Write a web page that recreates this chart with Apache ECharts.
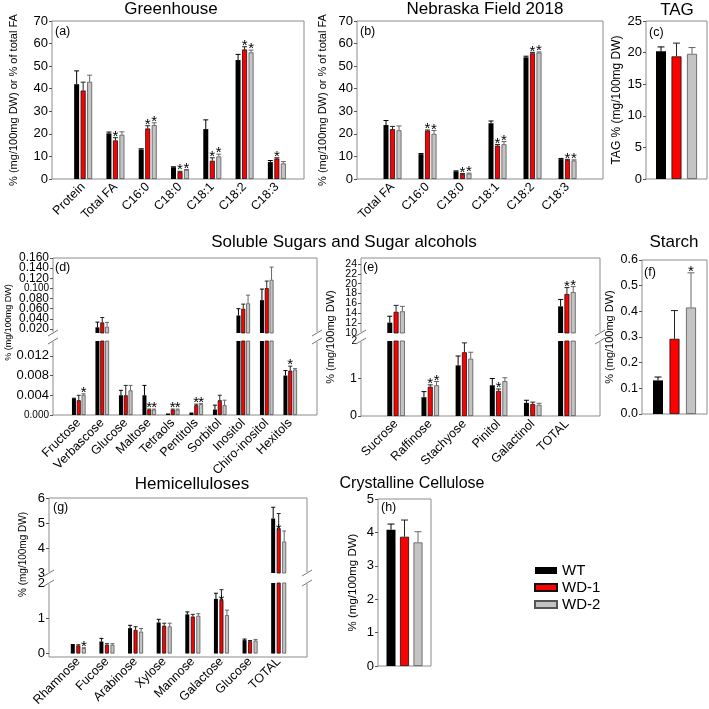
<!DOCTYPE html>
<html>
<head>
<meta charset="utf-8">
<title>Seed composition WT / WD-1 / WD-2</title>
<script src="https://cdn.jsdelivr.net/npm/echarts@6/dist/echarts.min.js"></script>
<style>
  html, body { margin: 0; padding: 0; background: #fff; }
  #chart { width: 709px; height: 709px; }
</style>
</head>
<body>
<div id="chart"></div>
<script>
// ---- (a) Greenhouse ----
const ghCats = ['Protein', 'Total FA', 'C16:0', 'C18:0', 'C18:1', 'C18:2', 'C18:3'];
const ghWT = [42.0, 20.2, 13.1, 5.2, 22.1, 52.7, 7.5];
const ghWTErr = [5.9, 0.6, 0.3, 0.2, 4.1, 2.5, 0.7];
const ghWD1 = [39.2, 17.1, 22.4, 3.1, 8.1, 57.4, 9.1];
const ghWD1Err = [3.7, 1.2, 1.2, 0.3, 1.3, 1.2, 0.3];
const ghWD2 = [43.1, 19.6, 23.9, 4.0, 10.0, 56.1, 6.9];
const ghWD2Err = [2.9, 1.3, 1.0, 0.2, 1.0, 1.0, 0.8];
const ghWD1Star = [0, 1, 1, 1, 1, 1, 1];
const ghWD2Star = [0, 0, 1, 1, 1, 1, 0];

// ---- (b) Nebraska Field 2018 ----
const nbCats = ['Total FA', 'C16:0', 'C18:0', 'C18:1', 'C18:2', 'C18:3'];
const nbWT = [23.9, 11.0, 3.4, 24.7, 53.9, 8.8];
const nbWTErr = [2.0, 0.3, 0.2, 1.0, 0.5, 0.3];
const nbWD1 = [22.1, 21.4, 2.2, 14.8, 55.7, 8.4];
const nbWD1Err = [1.2, 0.3, 0.2, 0.5, 0.4, 0.3];
const nbWD2 = [21.6, 20.0, 2.4, 15.4, 56.0, 8.2];
const nbWD2Err = [1.9, 1.5, 0.2, 1.2, 0.3, 0.3];
const nbWD1Star = [0, 1, 1, 1, 1, 1];
const nbWD2Star = [0, 1, 1, 1, 1, 1];
const faTicks = [0, 10, 20, 30, 40, 50, 60, 70];

// ---- (c) TAG ----
const tagWT = [20.2], tagWTErr = [0.7];
const tagWD1 = [19.4], tagWD1Err = [2.1];
const tagWD2 = [19.8], tagWD2Err = [1.0];
const tagTicks = [0, 5, 10, 15, 20, 25];

// ---- (d) sugars (small amounts) ----
const sgCats = ['Fructose', 'Verbascose', 'Glucose', 'Maltose', 'Tetraols', 'Pentitols', 'Sorbitol', 'Inositol', 'Chiro-inositol', 'Hexitols'];
const sgWT = [0.0033, 0.0232, 0.0040, 0.0040, 0.0003, 0.0005, 0.0011, 0.0465, 0.0768, 0.0080];
const sgWTErr = [0.0001, 0.0103, 0.0010, 0.0020, 0, 0, 0.0009, 0.0135, 0.0219, 0.0010];
const sgWD1 = [0.0030, 0.0329, 0.0040, 0.0011, 0.0011, 0.0020, 0.0030, 0.0600, 0.1006, 0.0090];
const sgWD1Err = [0.0010, 0.0097, 0.0020, 0.0001, 0.0001, 0.0002, 0.0010, 0.0090, 0.0139, 0.0009];
const sgWD2 = [0.0041, 0.0245, 0.0050, 0.0011, 0.0011, 0.0022, 0.0020, 0.0706, 0.1170, 0.0092];
const sgWD2Err = [0.0002, 0.0084, 0.0010, 0.0001, 0.0001, 0.0001, 0.0010, 0.0161, 0.0250, 0.0002];
const sgWD1Star = [0, 0, 0, 1, 1, 1, 0, 0, 0, 1];
const sgWD2Star = [1, 0, 0, 1, 1, 1, 0, 0, 0, 0];
const sgTicksHigh = [0.02, 0.04, 0.06, 0.08, 0.10, 0.12, 0.14, 0.16];
const sgTicksLow = [0, 0.004, 0.008, 0.012];

// ---- (e) sugars (large amounts) ----
const suCats = ['Sucrose', 'Raffinose', 'Stachyose', 'Pinitol', 'Galactinol', 'TOTAL'];
const suWT = [12.1, 0.50, 1.35, 0.82, 0.35, 15.4];
const suWTErr = [1.3, 0.15, 0.25, 0.18, 0.07, 1.4];
const suWD1 = [14.3, 0.78, 1.70, 0.67, 0.32, 17.9];
const suWD1Err = [1.3, 0.05, 0.25, 0.05, 0.05, 1.3];
const suWD2 = [14.4, 0.82, 1.53, 0.93, 0.30, 18.3];
const suWD2Err = [1.0, 0.10, 0.17, 0.09, 0.04, 1.1];
const suWD1Star = [0, 1, 0, 1, 0, 1];
const suWD2Star = [0, 1, 0, 0, 0, 1];
const suTicksHigh = [10, 12, 14, 16, 18, 20, 22, 24];
const suTicksLow = [0, 1, 2];

// ---- (f) Starch ----
const stWT = [0.131], stWTErr = [0.013];
const stWD1 = [0.293], stWD1Err = [0.110];
const stWD2 = [0.415], stWD2Err = [0.135];
const stWD2Star = [1];
const stTicks = [0, 0.1, 0.2, 0.3, 0.4, 0.5, 0.6];

// ---- (g) Hemicelluloses ----
const hmCats = ['Rhamnose', 'Fucose', 'Arabinose', 'Xylose', 'Mannose', 'Galactose', 'Glucose', 'TOTAL'];
const hmWT = [0.245, 0.34, 0.72, 0.88, 1.11, 1.55, 0.38, 5.18];
const hmWTErr = [0.01, 0.09, 0.08, 0.09, 0.07, 0.16, 0.03, 0.45];
const hmWD1 = [0.23, 0.25, 0.67, 0.79, 1.05, 1.52, 0.35, 4.78];
const hmWD1Err = [0.02, 0.03, 0.09, 0.07, 0.06, 0.29, 0.02, 0.60];
const hmWD2 = [0.155, 0.25, 0.62, 0.77, 1.07, 1.09, 0.37, 4.26];
const hmWD2Err = [0.01, 0.03, 0.09, 0.09, 0.06, 0.14, 0.03, 0.42];
const hmWD1Star = [0, 0, 0, 0, 0, 2, 0, 2]; // 2 = star sits on the bar top
const hmWD2Star = [1, 0, 0, 0, 0, 0, 0, 0];
const hmTicksHigh = [3, 4, 5, 6];
const hmTicksLow = [0, 1, 2];

// ---- (h) Crystalline cellulose ----
const ccWT = [4.08], ccWTErr = [0.17];
const ccWD1 = [3.87], ccWD1Err = [0.50];
const ccWD2 = [3.70], ccWD2Err = [0.32];
const ccTicks = [0, 1, 2, 3, 4, 5];

const genotypes = ['WT', 'WD-1', 'WD-2'];

// ---- styling ----
const FONT = 'Liberation Sans';
const FILLS = ['#000000', '#ff0000', '#c4c4c4'];
const EDGES = ['#000000', '#111111', '#555555'];
const ERR_COLORS = ['#000000', '#222222', '#666666'];
const FRAME = '#8c8c8c';
const DW_NAME = '% (mg/100mg DW)';

const grid = [], xAxis = [], yAxis = [], series = [], graphic = [];

function errRenderer(pitch, capW) {
  return function (params, api) {
    const k = api.value(3);
    const v = api.value(1), e = api.value(2), star = api.value(4);
    const p0 = api.coord([api.value(0), v]);
    const p1 = api.coord([api.value(0), v + e]);
    const x = p0[0] + (k - 1) * pitch;
    const color = ERR_COLORS[k];
    const children = [];
    if (e > 0) {
      children.push({ type: 'line', shape: { x1: x, y1: p0[1], x2: x, y2: p1[1] }, style: { stroke: color, lineWidth: 1 } });
      children.push({ type: 'line', shape: { x1: x - capW / 2, y1: p1[1], x2: x + capW / 2, y2: p1[1] }, style: { stroke: color, lineWidth: 1 } });
    }
    if (star) {
      const sy = star === 2 ? p0[1] + 1 : p1[1] - 1;
      children.push({
        type: 'text', x: x, y: sy,
        style: { text: '*', fontSize: 15, fontFamily: FONT, fill: '#000', align: 'center', verticalAlign: 'middle', textAlign: 'center', textVerticalAlign: 'middle' }
      });
    }
    return { type: 'group', children: children };
  };
}

// a value axis that only shows the given tick values
function tickAxis(gi, seg, p, ticks) {
  const size = seg.size || p.ySize;
  return {
    gridIndex: gi, type: 'value', position: 'left', min: seg.min, max: seg.max, offset: p.data[0] - p.frame[0],
    axisLine: { show: false }, splitLine: { show: false },
    axisTick: { show: true, length: 3, customValues: ticks, lineStyle: { color: '#555' } },
    axisLabel: {
      customValues: ticks, margin: 4, hideOverlap: false, showMinLabel: true, showMaxLabel: true,
      fontFamily: FONT, fontSize: size, color: '#000',
      formatter: function (v) {
        const t = Number(v).toFixed(p.dec);
        return (seg.small || []).some(s => Math.abs(s - v) < 1e-9) ? '{s|' + t + '}' : t;
      },
      rich: { s: { fontFamily: FONT, fontSize: 10, color: '#000' } }
    }
  };
}

function addPanel(p) {
  // outer frame with the axis title
  const fi = grid.length;
  grid.push({ left: p.frame[0], top: p.frame[1], width: p.frame[2], height: p.frame[3], show: true, borderColor: FRAME, borderWidth: 1 });
  xAxis.push({ gridIndex: fi, type: 'value', show: false });
  yAxis.push({
    gridIndex: fi, type: 'value', position: 'left', min: 0, max: 1,
    axisLine: { show: false }, axisTick: { show: false }, axisLabel: { show: false }, splitLine: { show: false },
    name: p.yName, nameLocation: 'middle', nameGap: p.nameGap,
    nameTextStyle: { fontFamily: FONT, fontSize: p.nameSize, color: '#000', padding: p.namePad || 0 }
  });

  const gapPct = Math.round((p.pitch - p.barWidth) / p.barWidth * 100) + '%';
  p.segs.forEach((seg, si) => {
    const isBottom = si === p.segs.length - 1;
    const gi = grid.length;
    grid.push({ left: p.data[0], width: p.data[1], top: seg.top, height: seg.bottom - seg.top });
    xAxis.push({
      gridIndex: gi, type: 'category', data: p.cats,
      axisLine: { show: false }, axisTick: { show: false },
      axisLabel: isBottom && p.cats[0] !== ''
        ? { rotate: 45, margin: 6, interval: 0, fontFamily: FONT, fontSize: p.xSize, color: '#000' }
        : { show: false }
    });
    const yi = yAxis.length;
    if (seg.split) {
      // dense labels: alternate them over two stacked axes so none is dropped
      yAxis.push(tickAxis(gi, seg, p, seg.ticks.filter((t, i) => i % 2 === 0)));
      yAxis.push(tickAxis(gi, seg, p, seg.ticks.filter((t, i) => i % 2 === 1)));
    } else {
      yAxis.push(tickAxis(gi, seg, p, seg.ticks));
    }
    p.vals.forEach((vals, k) => {
      series.push({
        type: 'bar', name: genotypes[k], xAxisIndex: gi, yAxisIndex: yi, data: vals,
        barWidth: p.barWidth, barGap: gapPct, clip: true, silent: true,
        itemStyle: { color: FILLS[k], borderColor: EDGES[k], borderWidth: k ? 0.8 : 0 }
      });
    });
    const errData = [];
    p.vals.forEach((vals, k) => vals.forEach((v, i) => {
      if (v >= seg.min && v <= seg.max) {
        errData.push([i, v, p.errs[k][i], k, p.stars[k] ? p.stars[k][i] : 0]);
      }
    }));
    series.push({
      type: 'custom', name: 'err', xAxisIndex: gi, yAxisIndex: yi, clip: true, silent: true, z: 4,
      data: errData, renderItem: errRenderer(p.pitch, p.capW)
    });
  });

  (p.breaks || []).forEach(x => {
    const yUp = p.segs[0].bottom, yLow = p.segs[1].top;
    graphic.push({ type: 'rect', shape: { x: x - 3, y: yUp - 1, width: 6, height: yLow - yUp + 2 }, style: { fill: '#fff' }, z: 50 });
    [yUp, yLow].forEach(y => graphic.push({
      type: 'line', shape: { x1: x - 5, y1: y + 3, x2: x + 5, y2: y - 3 }, style: { stroke: '#777', lineWidth: 1 }, z: 51
    }));
  });
}

function addText(text, x, y, size, align) {
  graphic.push({
    type: 'text', x: x, y: y, z: 60,
    style: { text: text, fontFamily: FONT, fontSize: size, fill: '#000', align: align, verticalAlign: 'middle', textAlign: align, textVerticalAlign: 'middle' }
  });
}

addPanel({
  frame: [52, 21, 252, 158], data: [67, 226], cats: ghCats,
  vals: [ghWT, ghWD1, ghWD2], errs: [ghWTErr, ghWD1Err, ghWD2Err], stars: [null, ghWD1Star, ghWD2Star],
  segs: [{ top: 21, bottom: 179, min: 0, max: 70, ticks: faTicks }],
  barWidth: 5, pitch: 6.5, capW: 5, dec: 0, ySize: 13, xSize: 12.5,
  yName: '% (mg/100mg DW) or % of total FA', nameGap: 33, nameSize: 11
});
addPanel({
  frame: [357, 21, 246, 158], data: [375, 210], cats: nbCats,
  vals: [nbWT, nbWD1, nbWD2], errs: [nbWTErr, nbWD1Err, nbWD2Err], stars: [null, nbWD1Star, nbWD2Star],
  segs: [{ top: 21, bottom: 179, min: 0, max: 70, ticks: faTicks }],
  barWidth: 5, pitch: 6.5, capW: 5, dec: 0, ySize: 13, xSize: 12.5,
  yName: '% (mg/100mg DW) or % of total FA', nameGap: 29, nameSize: 11
});
addPanel({
  frame: [646, 21, 61, 158], data: [646, 61], cats: [''],
  vals: [tagWT, tagWD1, tagWD2], errs: [tagWTErr, tagWD1Err, tagWD2Err], stars: [null, null, null],
  segs: [{ top: 21, bottom: 179, min: 0, max: 25, ticks: tagTicks }],
  barWidth: 10, pitch: 15.5, capW: 7, dec: 0, ySize: 13, xSize: 12,
  yName: 'TAG % (mg/100mg DW)', nameGap: 23, nameSize: 12
});
addPanel({
  frame: [53, 258, 264, 157], data: [67, 235], cats: sgCats,
  vals: [sgWT, sgWD1, sgWD2], errs: [sgWTErr, sgWD1Err, sgWD2Err], stars: [null, sgWD1Star, sgWD2Star],
  segs: [
    { top: 258, bottom: 333, min: 0.012, max: 0.16, ticks: sgTicksHigh, small: [0.1], size: 12, split: true },
    { top: 341, bottom: 415, min: 0, max: 0.015, ticks: sgTicksLow, small: [0] }
  ],
  breaks: [53, 317],
  barWidth: 4, pitch: 4.8, capW: 4, dec: 3, ySize: 13, xSize: 12.5,
  yName: DW_NAME, nameGap: 40, nameSize: 9, namePad: [0, 0, 0, 28]
});
addPanel({
  frame: [361, 258, 239, 158], data: [379, 205], cats: suCats,
  vals: [suWT, suWD1, suWD2], errs: [suWTErr, suWD1Err, suWD2Err], stars: [null, suWD1Star, suWD2Star],
  segs: [
    { top: 258, bottom: 333, min: 10, max: 25.2, ticks: suTicksHigh, size: 10.5, split: true },
    { top: 341, bottom: 416, min: 0, max: 2, ticks: suTicksLow, small: [2] }
  ],
  breaks: [361, 600],
  barWidth: 5, pitch: 6.3, capW: 5, dec: 0, ySize: 12.5, xSize: 12.5,
  yName: DW_NAME, nameGap: 25, nameSize: 11
});
addPanel({
  frame: [642, 260, 65, 154], data: [642, 65], cats: [''],
  vals: [stWT, stWD1, stWD2], errs: [stWTErr, stWD1Err, stWD2Err], stars: [null, null, stWD2Star],
  segs: [{ top: 260, bottom: 414, min: 0, max: 0.6, ticks: stTicks }],
  barWidth: 10, pitch: 16.5, capW: 7, dec: 1, ySize: 12.5, xSize: 12,
  yName: DW_NAME, nameGap: 27, nameSize: 11
});
addPanel({
  frame: [49, 498, 258, 159], data: [64, 229], cats: hmCats,
  vals: [hmWT, hmWD1, hmWD2], errs: [hmWTErr, hmWD1Err, hmWD2Err], stars: [null, hmWD1Star, hmWD2Star],
  segs: [
    { top: 498, bottom: 573, min: 3, max: 6, ticks: hmTicksHigh },
    { top: 583, bottom: 657, min: 0, max: 2, ticks: hmTicksLow }
  ],
  breaks: [49, 307],
  barWidth: 4, pitch: 5.5, capW: 4, dec: 0, ySize: 13, xSize: 12.5,
  yName: DW_NAME, nameGap: 21, nameSize: 10, namePad: [0, 0, 0, 46]
});
addPanel({
  frame: [378, 499, 53, 167], data: [378, 53], cats: [''],
  vals: [ccWT, ccWD1, ccWD2], errs: [ccWTErr, ccWD1Err, ccWD2Err], stars: [null, null, null],
  segs: [{ top: 499, bottom: 666, min: 0, max: 5, ticks: ccTicks }],
  barWidth: 9, pitch: 13.5, capW: 7, dec: 0, ySize: 13, xSize: 12,
  yName: DW_NAME, nameGap: 19, nameSize: 11.5
});

// panel titles
addText('Greenhouse', 171, 9, 17, 'center');
addText('Nebraska Field 2018', 485, 9, 17, 'center');
addText('TAG', 677, 10, 17, 'center');
addText('Soluble Sugars and Sugar alcohols', 344, 242, 17, 'center');
addText('Starch', 674, 242, 17, 'center');
addText('Hemicelluloses', 192, 484, 17, 'center');
addText('Crystalline Cellulose', 412, 484, 16, 'center');
// panel letters
addText('(a)', 55, 32, 12.5, 'left');
addText('(b)', 360, 32, 12.5, 'left');
addText('(c)', 649, 33, 12.5, 'left');
addText('(d)', 55, 268, 12.5, 'left');
addText('(e)', 363, 268, 12.5, 'left');
addText('(f)', 644, 273, 12.5, 'left');
addText('(g)', 53, 508, 12.5, 'left');
addText('(h)', 381, 508, 12.5, 'left');

const chart = echarts.init(document.getElementById('chart'));
chart.setOption({
  animation: false,
  backgroundColor: '#fff',
  grid: grid,
  xAxis: xAxis,
  yAxis: yAxis,
  series: series,
  graphic: graphic,
  legend: {
    data: genotypes, orient: 'vertical', left: 534, top: 563, padding: 0,
    itemWidth: 22, itemHeight: 7, itemGap: 2, icon: 'rect', selectedMode: false,
    textStyle: { fontFamily: FONT, fontSize: 15, color: '#000' }
  }
});
</script>
</body>
</html>
